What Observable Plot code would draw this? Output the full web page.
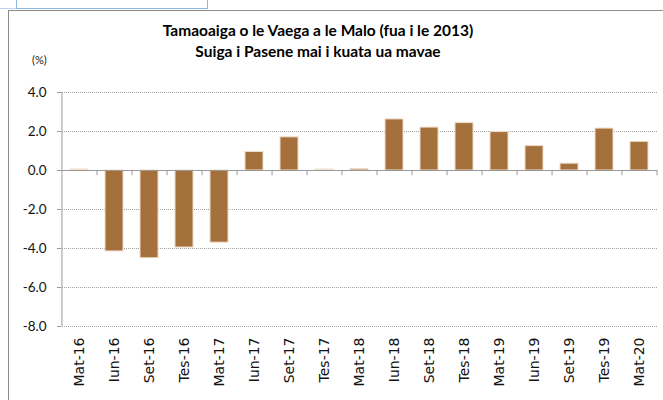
<!DOCTYPE html>
<html><head><meta charset="utf-8">
<script src="https://cdn.jsdelivr.net/npm/d3@7"></script>
<script src="https://cdn.jsdelivr.net/npm/@observablehq/plot@0.6"></script>
<style>
html,body{margin:0;padding:0;background:#fff;}
#page{position:relative;width:663px;height:400px;overflow:hidden;background:#fff;}
#frame{position:absolute;left:8px;top:10px;width:700px;height:420px;border-top:1.5px solid #8c8c8c;border-left:1.5px solid #8c8c8c;}
#selbox{position:absolute;left:16px;top:-2px;width:190px;height:10px;border:1px solid #8db8e3;border-top:none;}
#selline{position:absolute;left:0px;top:8px;width:16px;height:0;border-top:1px solid #b9d3ee;}
#title{position:absolute;left:118px;top:20px;width:400px;text-align:center;font-family:Lato,sans-serif;font-weight:bold;font-size:15.5px;line-height:21px;color:#000;}
#unit{position:absolute;left:32px;top:53px;font-family:Lato,sans-serif;font-size:11px;color:#222;}
#chart{position:absolute;left:0;top:60px;}
</style></head><body>
<div id="page">
  <div id="frame"></div>
  <div id="selbox"></div>
  <div id="selline"></div>
  <div id="title">Tamaoaiga o le Vaega a le Malo (fua i le 2013)<br>Suiga i Pasene mai i kuata ua mavae</div>
  <div id="unit">(%)</div>
  <div id="chart"></div>
</div>
<script>
const categories = ["Mat-16","Iun-16","Set-16","Tes-16","Mat-17","Iun-17","Set-17","Tes-17","Mat-18","Iun-18","Set-18","Tes-18","Mat-19","Iun-19","Set-19","Tes-19","Mat-20"];
const values = [0.05,-4.15,-4.5,-3.95,-3.7,0.95,1.7,0.05,0.07,2.62,2.2,2.43,1.97,1.25,0.35,2.15,1.47];
const yTicks = [4,2,0,-2,-4,-6,-8];
const gridValues = [4,2,-2,-4,-6,-8];

const W = 663, H = 340, ml = 60, mr = 6, mt = 32, mb = 74;
const step = (W - ml - mr) / categories.length;
const data = categories.map((c, i) => ({period: c, value: values[i]}));
const axisColor = "#9a9a9a";

const chart = Plot.plot({
  width: W, height: H,
  marginLeft: ml, marginRight: mr, marginTop: mt, marginBottom: mb,
  style: {background: "transparent", overflow: "visible"},
  x: {type: "band", domain: categories, paddingInner: 0.5, paddingOuter: 0.25, axis: null, label: null},
  y: {domain: [-8, 4], axis: null, label: null},
  marks: [
    Plot.ruleY(gridValues, {stroke: "#a0a0a0", strokeDasharray: "1,1"}),
    Plot.barY(data, {x: "period", y: "value", fill: "#a4703c", stroke: "#efdcc8", strokeWidth: 1}),
    Plot.ruleY([0], {stroke: axisColor}),
    Plot.ruleX([categories[0]], {y1: -8, y2: 4, dx: -step / 2, stroke: axisColor}),
    Plot.ruleX(categories, {y1: 0, y2: -0.27, dx: step / 2, stroke: axisColor}),
    Plot.axisY({ticks: yTicks, tickFormat: d => d.toFixed(1), tickSize: 3, tickPadding: 11, stroke: axisColor, fill: "#111", fontFamily: "Lato", fontSize: 13.5, label: null}),
    Plot.axisX({tickRotate: -90, tickSize: 0, tickPadding: 11, fontFamily: "DejaVu Sans", fontSize: 14, fill: "#111", label: null})
  ]
});
document.getElementById("chart").appendChild(chart);
</script>
</body></html>
